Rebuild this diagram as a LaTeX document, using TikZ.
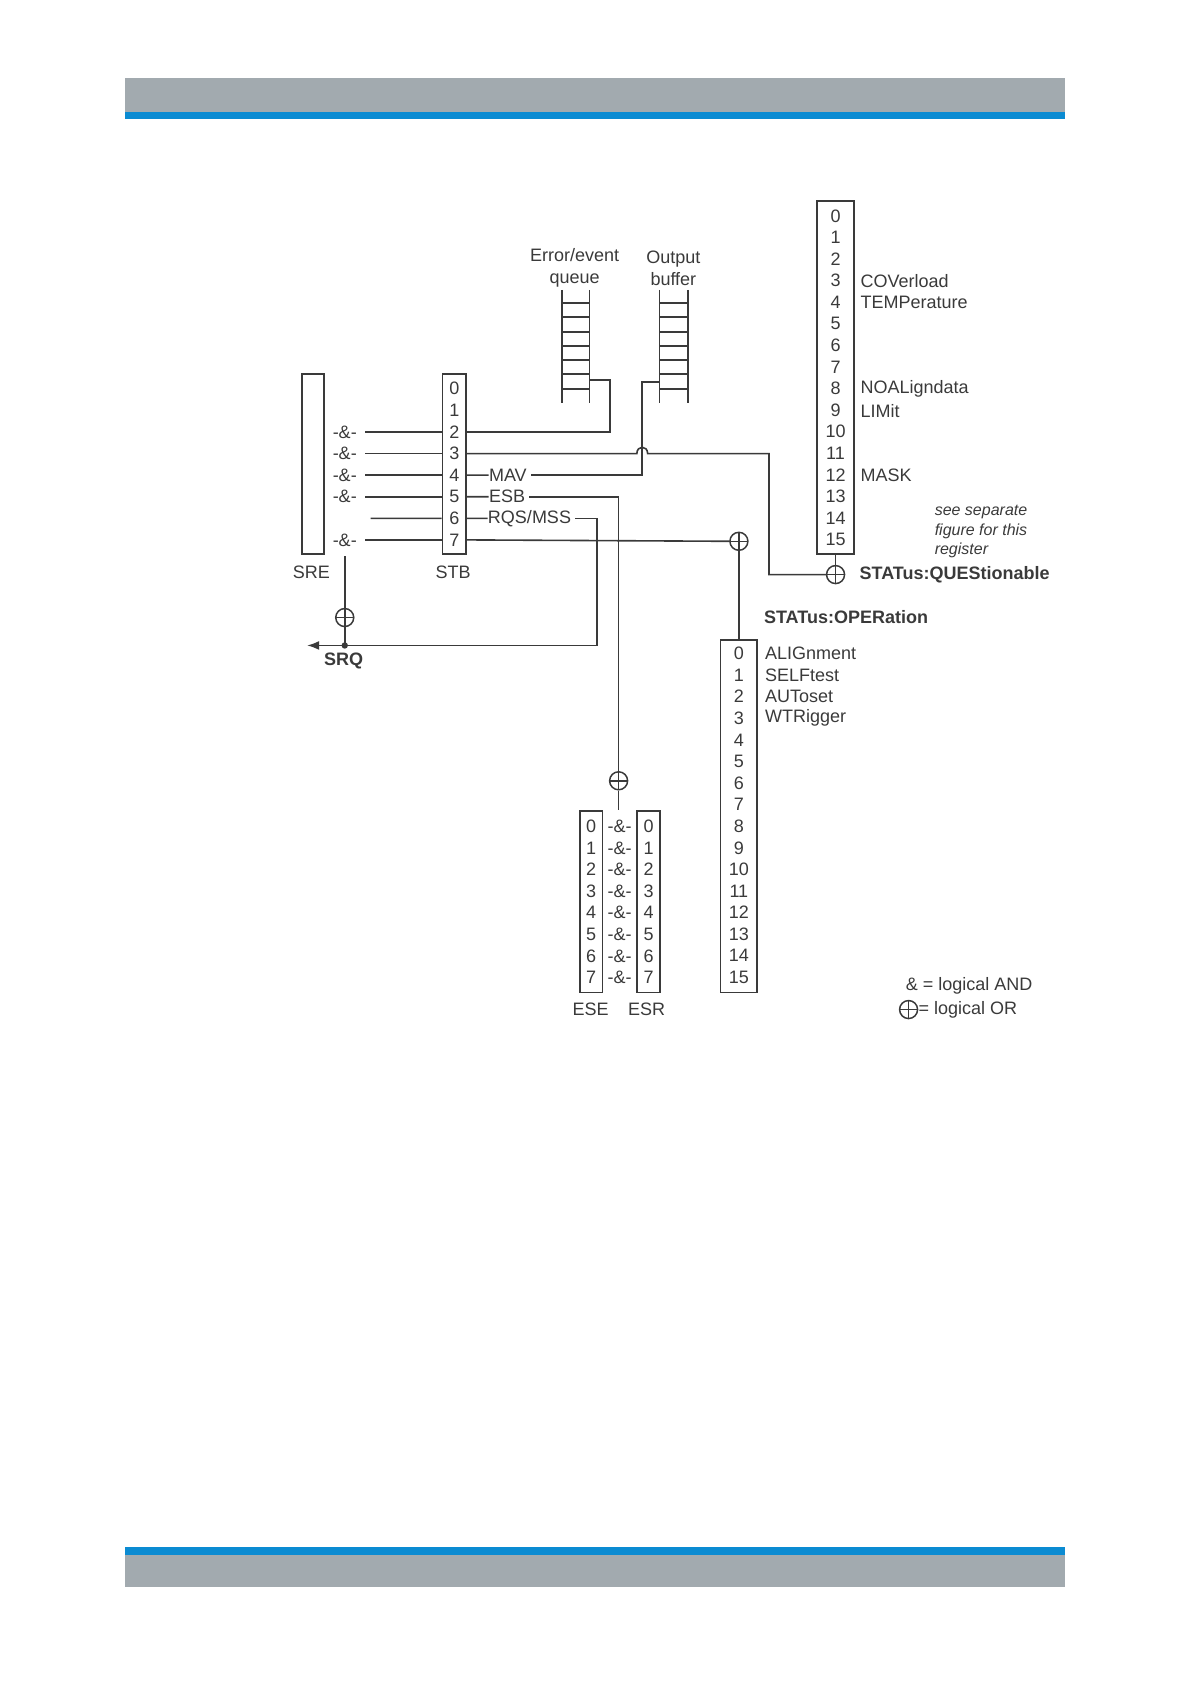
\documentclass[tikz,border=0pt]{standalone}
\usepackage{fontspec}
\setmainfont{Liberation Sans}
\usetikzlibrary{arrows.meta,fit}
\definecolor{ink}{HTML}{3A3A3A}
\definecolor{hdrgray}{HTML}{A2AAAF}
\definecolor{hdrblue}{HTML}{0B8BD2}
\begin{document}
\begin{tikzpicture}[x=0.53697pt,y=-0.53697pt,
  every node/.style={font=\fontsize{9}{11}\selectfont, text=ink, inner sep=0pt},
  wire/.style={draw=ink, line width=0.8pt},
  regbox/.style={draw=ink, line width=0.85pt, rectangle, inner sep=0pt},
  orgate/.style={circle, draw=ink, line width=0.75pt, minimum size=9pt, inner sep=0pt,
    path picture={\draw[ink, line width=0.75pt] (path picture bounding box.north) -- (path picture bounding box.south) (path picture bounding box.west) -- (path picture bounding box.east);}},
  andlbl/.style={font=\fontsize{9}{11}\selectfont},
  bold/.style={font=\fontsize{9}{11}\selectfont\bfseries},
  rail/.style={draw=ink, line width=0.85pt}]
\useasboundingbox (0,0) rectangle (1109,1568);
% header / footer bars
\fill[hdrgray] (116,73) rectangle (992,104);
\fill[hdrblue] (116,104) rectangle (992,111);
\fill[hdrblue] (116,1440) rectangle (992,1448);
\fill[hdrgray] (116,1448) rectangle (992,1478);

% ---------- SRE / STB ----------
\node[regbox, fit={(281,348)(302,516)}] (sre) {};
\node[regbox, fit={(412,348)(434,516)}] (stb) {};
\foreach \i in {0,...,7} \node (stb\i) at (423,{362+20.1*\i}) {\i};
\node (srelbl) at (290,533) {SRE};
\node (stblbl) at (422,533) {STB};
\foreach \i in {2,3,4,5,7} {
  \node[andlbl] (and\i) at (321,{362+20.1*\i}) {-\&-};
  \draw[wire] ([xshift=4pt]and\i.east) -- (stb\i -| stb.west);
}
\coordinate (r6start) at (345,482.6);
\draw[wire] (r6start) -- (stb6 -| stb.west);

% labels right of STB
\node[anchor=west] (mav) at (455,442.4) {MAV};
\node[anchor=west] (esb) at (455,462.5) {ESB};
\node[anchor=west] (rqs) at (454,482.6) {RQS/MSS};
\draw[wire] (stb4 -| stb.east) -- (mav.west);
\draw[wire] (stb5 -| stb.east) -- (esb.west);
\draw[wire] (stb6 -| stb.east) -- (rqs.west);

% ---------- queues ----------
\node[align=center] (eqlbl) at (535,249.5) {Error/event\\queue};
\node[align=center] (oblbl) at (627,249.5) {Output\\buffer};
\foreach \x in {523,549,614,640.6} \draw[rail] (\x,270) -- (\x,375);
\foreach \y in {282,295,309,322,335,348,362} {
  \draw[rail] (523,\y) -- (549,\y);
  \draw[rail] (614,\y) -- (640.6,\y);
}
\coordinate (eqtap) at (549,354);
\coordinate (eqbend) at (568,354);
\coordinate (obtap) at (614,355.4);
\coordinate (obbend) at (598,355.4);

% row 2 -> error queue
\draw[wire] (stb2 -| stb.east) -| (eqbend) -- (eqtap);
% MAV -> output buffer
\draw[wire] ([xshift=2pt]mav.east) -| (obbend) -- (obtap);

% ---------- STATus:QUEStionable ----------
\node[regbox, fit={(761,187)(795,516)}] (ques) {};
\foreach \i in {0,...,15} \node (q\i) at (778,{201+20.1*\i}) {\i};
\node[anchor=west] (qcov) at (801,262) {COVerload};
\node[anchor=west] (qtemp) at (801,282) {TEMPerature};
\node[anchor=west] (qnoal) at (801,362.5) {NOALigndata};
\node[anchor=west] (qlim) at (801,382.5) {LIMit};
\node[anchor=west] (qmask) at (801,443) {MASK};
\node[anchor=west, align=left, font=\fontsize{8}{9.7}\selectfont\itshape] (qnote) at (870,495) {see separate\\figure for this\\register};
\node[orgate] (orq) at (778,535) {};
\node[bold, anchor=west] (queslbl) at (800,535.5) {STATus:QUEStionable};
\draw[wire] (ques.south) -- (orq.north);

% row 3 -> QUEStionable with hop over MAV wire
\coordinate (hopa) at (593,422.3);
\coordinate (hopb) at (603,422.3);
\coordinate (hopc1) at (593,414.5);
\coordinate (hopc2) at (603,414.5);
\coordinate (qbend) at (716,422.3);
\draw[wire] (stb3 -| stb.east) -- (hopa) .. controls (hopc1) and (hopc2) .. (hopb) -- (qbend) |- (orq.west);

% ---------- STATus:OPERation ----------
\node[orgate] (oro) at (688,504) {};
\draw[wire] (stb7 -| stb.east) -- (oro.west);
\node[bold, anchor=west] (oplbl) at (711,575) {STATus:OPERation};
\node[regbox, fit={(671,596)(705,924)}] (oper) {};
\foreach \i in {0,...,15} \node (o\i) at (688,{608.5+20.1*\i}) {\i};
\node[anchor=west] (oalig) at (712,608.5) {ALIGnment};
\node[anchor=west] (oself) at (712,628.6) {SELFtest};
\node[anchor=west] (oauto) at (712,648.7) {AUToset};
\node[anchor=west] (owtr) at (712,668.8) {WTRigger};
\draw[wire] (oro.south) -- (oper.north);

% ---------- ESE / ESR ----------
\node[regbox, fit={(540,755)(561,924)}] (ese) {};
\node[regbox, fit={(593,755)(614.6,924)}] (esr) {};
\foreach \i in {0,...,7} {
  \node (ese\i) at (550.5,{769.5+20.1*\i}) {\i};
  \node (esr\i) at (604,{769.5+20.1*\i}) {\i};
  \node[andlbl] (ea\i) at (577,{769.5+20.1*\i}) {-\&-};
}
\node (eselbl) at (550,940) {ESE};
\node (esrlbl) at (602,940) {ESR};
\node[orgate] (ore) at (576,727) {};
\coordinate (esetop) at (576,754);
\draw[wire] ([xshift=2pt]esb.east) -| (ore.north);
\draw[wire] (ore.south) -- (esetop);

% ---------- SRQ ----------
\node[orgate] (ors) at (321,575) {};
\coordinate (and7low) at (321,518);
\draw[wire] (and7low) -- (ors.north);
\coordinate (srqdot) at (321,601);
\coordinate (rqbend) at (556,601);
\coordinate (srqend) at (286,601);
\draw[wire] (ors.south) -- (srqdot);
\draw[wire, -{Latex[length=6pt,width=4.5pt]}] ([xshift=2pt]rqs.east) -| (rqbend) -- (srqend);
\fill[ink] (srqdot) circle (1.6pt);
\node[bold] (srqlbl) at (320,615) {SRQ};

% ---------- legend ----------
\node[anchor=west] (leg1) at (843,917.5) {\& = logical AND};
\node[orgate] (legor) at (846,940) {};
\node[anchor=west] (leg2) at (855,940.5) {= logical OR};
\end{tikzpicture}
\end{document}
